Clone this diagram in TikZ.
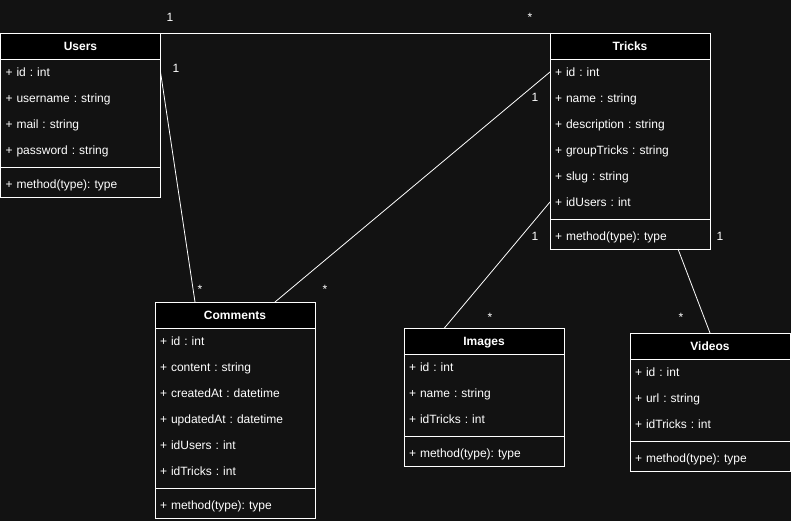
\documentclass[tikz,border=0pt]{standalone}
\usepackage{fontspec}
\setmainfont{Liberation Sans}
\frenchspacing
\usetikzlibrary{
  positioning,
  calc
}
\definecolor{bgcolor}{RGB}{18, 18, 18}
\definecolor{headcolor}{RGB}{0, 0, 0}
\definecolor{linecolor}{RGB}{255, 255, 255}
\definecolor{labelcolor}{RGB}{255, 255, 255}
\tikzset{
classtext/.style={
  font=\fontsize{12}{14}\selectfont,
  text=labelcolor,
  text height=8.6pt,
  text depth=0pt
},
classhead/.style={
  draw=linecolor,
  fill=headcolor,
  line width=0.9pt,
  minimum width=160pt,
  minimum height=26pt,
  inner sep=0pt,
  outer sep=0pt,
  classtext,
  font=\bfseries\fontsize{12}{14}\selectfont
},
attr/.style={
  minimum height=26pt,
  text width=150pt,
  inner xsep=5pt,
  inner ysep=0pt,
  outer sep=0pt,
  align=left,
  classtext
},
classbox/.style={
  draw=linecolor,
  line width=0.9pt
},
divider/.style={
  draw=linecolor,
  line width=0.9pt
},
assoc/.style={
  draw=linecolor,
  line width=0.8pt
},
mult/.style={
  classtext,
  inner sep=0pt
}
}

\begin{document}
\begin{tikzpicture}[x=1pt, y=-1pt]
  % background and page size
  \fill[bgcolor] (0,0) rectangle (791,521);
  \useasboundingbox (0,0) rectangle (791,521);

  % Users
  \node[classhead] (users) at (80.5,46) {Users};
  \node[attr, below=0pt of users] (users1) {+ id : int};
  \node[attr, below=0pt of users1] (users2) {+ username : string};
  \node[attr, below=0pt of users2] (users3) {+ mail : string};
  \node[attr, below=0pt of users3] (users4) {+ password : string};
  \node[attr, below=8pt of users4] (usersm) {+ method(type): type};
  \draw[classbox] (users.north west) rectangle (usersm.south east);
  \draw[divider] ($(users4.south west)!0.5!(usersm.north west)$) -- ($(users4.south east)!0.5!(usersm.north east)$);
  \node[classhead] at (users) {Users};

  % Tricks
  \node[classhead] (tricks) at (630,46) {Tricks};
  \node[attr, below=0pt of tricks] (tricks1) {+ id : int};
  \node[attr, below=0pt of tricks1] (tricks2) {+ name : string};
  \node[attr, below=0pt of tricks2] (tricks3) {+ description : string};
  \node[attr, below=0pt of tricks3] (tricks4) {+ groupTricks : string};
  \node[attr, below=0pt of tricks4] (tricks5) {+ slug : string};
  \node[attr, below=0pt of tricks5] (tricks6) {+ idUsers : int};
  \node[attr, below=8pt of tricks6] (tricksm) {+ method(type): type};
  \draw[classbox] (tricks.north west) rectangle (tricksm.south east);
  \draw[divider] ($(tricks6.south west)!0.5!(tricksm.north west)$) -- ($(tricks6.south east)!0.5!(tricksm.north east)$);
  \node[classhead] at (tricks) {Tricks};

  % Comments
  \node[classhead] (comments) at (235,315) {Comments};
  \node[attr, below=0pt of comments] (comments1) {+ id : int};
  \node[attr, below=0pt of comments1] (comments2) {+ content : string};
  \node[attr, below=0pt of comments2] (comments3) {+ createdAt : datetime};
  \node[attr, below=0pt of comments3] (comments4) {+ updatedAt : datetime};
  \node[attr, below=0pt of comments4] (comments5) {+ idUsers : int};
  \node[attr, below=0pt of comments5] (comments6) {+ idTricks : int};
  \node[attr, below=8pt of comments6] (commentsm) {+ method(type): type};
  \draw[classbox] (comments.north west) rectangle (commentsm.south east);
  \draw[divider] ($(comments6.south west)!0.5!(commentsm.north west)$) -- ($(comments6.south east)!0.5!(commentsm.north east)$);
  \node[classhead] at (comments) {Comments};

  % Images
  \node[classhead] (images) at (484,341.5) {Images};
  \node[attr, below=0pt of images] (images1) {+ id : int};
  \node[attr, below=0pt of images1] (images2) {+ name : string};
  \node[attr, below=0pt of images2] (images3) {+ idTricks : int};
  \node[attr, below=8pt of images3] (imagesm) {+ method(type): type};
  \draw[classbox] (images.north west) rectangle (imagesm.south east);
  \draw[divider] ($(images3.south west)!0.5!(imagesm.north west)$) -- ($(images3.south east)!0.5!(imagesm.north east)$);
  \node[classhead] at (images) {Images};

  % Videos
  \node[classhead] (videos) at (710,346) {Videos};
  \node[attr, below=0pt of videos] (videos1) {+ id : int};
  \node[attr, below=0pt of videos1] (videos2) {+ url : string};
  \node[attr, below=0pt of videos2] (videos3) {+ idTricks : int};
  \node[attr, below=8pt of videos3] (videosm) {+ method(type): type};
  \draw[classbox] (videos.north west) rectangle (videosm.south east);
  \draw[divider] ($(videos3.south west)!0.5!(videosm.north west)$) -- ($(videos3.south east)!0.5!(videosm.north east)$);
  \node[classhead] at (videos) {Videos};

  % associations
  \draw[assoc] (users.north east) -- (tricks.north west);
  \draw[assoc] (users1.east) -- ($(comments.north west)!0.25!(comments.north east)$);
  \draw[assoc] (tricks1.west) -- ($(comments.north west)!0.75!(comments.north east)$);
  \draw[assoc] (tricks6.west) -- ($(images.north west)!0.25!(images.north east)$);
  \draw[assoc] ($(tricksm.south west)!0.8!(tricksm.south east)$) -- (videos.north);

  % multiplicities
  \node[mult] (m1) at (170,17) {1};
  \node[mult] (m2) at (530,17) {*};
  \node[mult] (m3) at (176,68) {1};
  \node[mult] (m4) at (200,289) {*};
  \node[mult] (m5) at (535,97) {1};
  \node[mult] (m6) at (325,289) {*};
  \node[mult] (m7) at (535,236) {1};
  \node[mult] (m8) at (490,317) {*};
  \node[mult] (m9) at (720,236) {1};
  \node[mult] (m10) at (681,317) {*};
\end{tikzpicture}
\end{document}
